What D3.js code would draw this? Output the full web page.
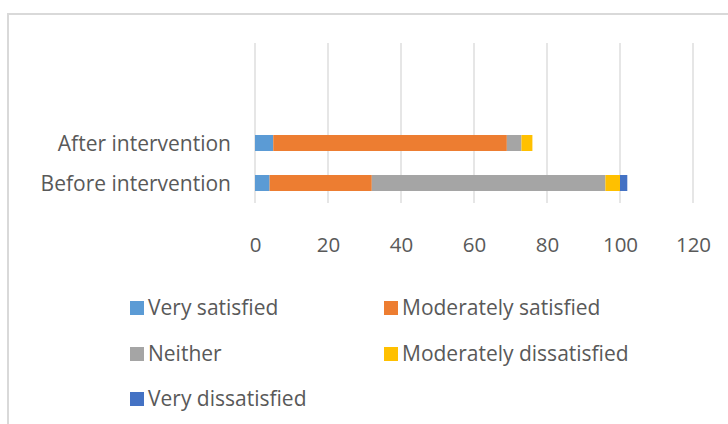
<!doctype html>
<html>
<head>
<meta charset="UTF-8">
<script src="https://d3js.org/d3.v7.min.js"></script>
<style>
  body { margin: 0; background: #fff; }
  text { font-family: "Open Sans", sans-serif; fill: #595959; }
</style>
</head>
<body>
<svg id="chart" width="728" height="424"></svg>
<script>
// data
var categories = ["Before intervention", "After intervention"];
var seriesNames = ["Very satisfied", "Moderately satisfied", "Neither", "Moderately dissatisfied", "Very dissatisfied"];
var beforeValues = [4, 28, 64, 4, 2];
var afterValues = [5, 64, 4, 3, 0];
var xTicks = [0, 20, 40, 60, 80, 100, 120];
var colors = ["#5B9BD5", "#ED7D31", "#A5A5A5", "#FFC000", "#4472C4"];

var svg = d3.select("#chart");

// outer chart border (only top and left visible)
svg.append("rect")
    .attr("x", 8).attr("y", 14)
    .attr("width", 740).attr("height", 440)
    .attr("fill", "none")
    .attr("stroke", "#d9d9d9")
    .attr("stroke-width", 2);

var plot = { left: 255, right: 693, top: 43, bottom: 203 };

var x = d3.scaleLinear().domain([0, 120]).range([plot.left, plot.right]);

// excel leaves empty slots above the two categories
var yDomain = ["_a", "_b", categories[1], categories[0]];
var y = d3.scaleBand().domain(yDomain).range([plot.top, plot.bottom]).paddingInner(0.6).paddingOuter(0.3);

// gridlines
svg.append("g")
    .selectAll("line")
    .data(xTicks)
    .enter().append("line")
    .attr("x1", d => x(d)).attr("x2", d => x(d))
    .attr("y1", plot.top).attr("y2", plot.bottom)
    .attr("stroke", "#d9d9d9")
    .attr("stroke-width", 1.3);

// stacked bars
var rows = categories.map(function (c, i) {
    var vals = i === 0 ? beforeValues : afterValues;
    var row = { category: c };
    seriesNames.forEach(function (s, j) { row[s] = vals[j]; });
    return row;
});
var stacked = d3.stack().keys(seriesNames)(rows);

svg.append("g")
    .selectAll("g")
    .data(stacked)
    .enter().append("g")
    .attr("fill", (d, i) => colors[i])
    .selectAll("rect")
    .data(d => d)
    .enter().append("rect")
    .attr("x", d => x(d[0]))
    .attr("width", d => x(d[1]) - x(d[0]))
    .attr("y", d => y(d.data.category))
    .attr("height", y.bandwidth());

// category labels
svg.append("g")
    .selectAll("text")
    .data(categories)
    .enter().append("text")
    .attr("x", 231)
    .attr("y", d => y(d) + y.bandwidth() / 2 + 1)
    .attr("dy", "0.35em")
    .attr("text-anchor", "end")
    .style("font-size", "21px")
    .text(d => d);

// x axis tick labels
var xAxis = d3.axisBottom(x).tickValues(xTicks).tickSize(0).tickPadding(0);
var gx = svg.append("g")
    .attr("transform", "translate(0,245)")
    .call(xAxis);
gx.select(".domain").remove();
gx.selectAll("text")
    .attr("y", 0)
    .attr("dy", "0.35em")
    .style("font-size", "20.5px")
    .style("fill", "#595959")
    .style("font-family", "\"Open Sans\", sans-serif");

// legend
var legendPos = [[130, 308], [384, 308], [130, 354], [384, 354], [130, 399]];
var legend = svg.append("g")
    .selectAll("g")
    .data(seriesNames)
    .enter().append("g")
    .attr("transform", (d, i) => "translate(" + legendPos[i][0] + "," + legendPos[i][1] + ")");
legend.append("rect")
    .attr("x", 0).attr("y", -7)
    .attr("width", 14).attr("height", 14)
    .attr("fill", (d, i) => colors[i]);
legend.append("text")
    .attr("x", 18)
    .attr("dy", "0.35em")
    .style("font-size", "21px")
    .text(d => d);
</script>
</body>
</html>
